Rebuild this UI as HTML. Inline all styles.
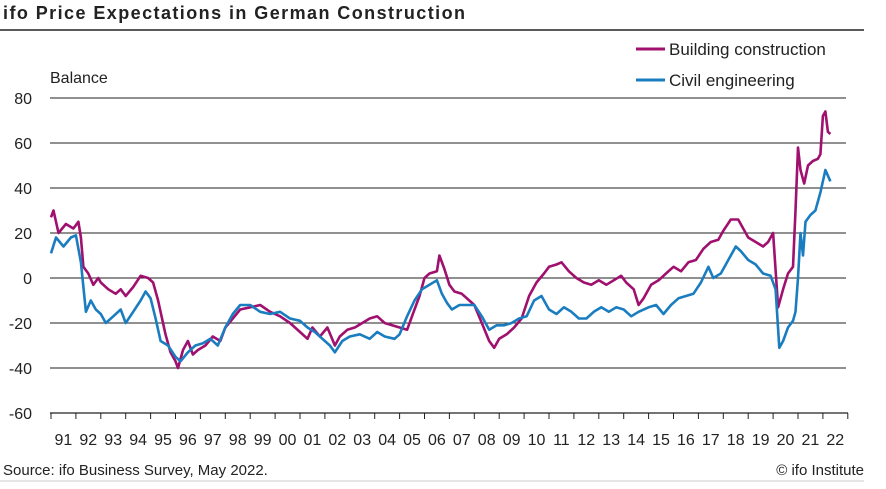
<!DOCTYPE html>
<html><head><meta charset="utf-8"><style>
body{margin:0;background:#fff;}
svg text{font-family:"Liberation Sans",sans-serif;fill:#222;}
</style></head><body>
<svg id="s" width="886" height="484" xmlns="http://www.w3.org/2000/svg">
<text x="3" y="19" font-size="18" font-weight="bold" textLength="462">ifo Price Expectations in German Construction</text>
<line x1="0" y1="30" x2="864" y2="30" stroke="#222" stroke-width="1.5"/>
<text x="50" y="83" font-size="16">Balance</text>
<line x1="636" y1="49" x2="665" y2="49" stroke="#a0106e" stroke-width="3"/>
<text x="669" y="55" font-size="17">Building construction</text>
<line x1="636" y1="80" x2="665" y2="80" stroke="#1a7dc0" stroke-width="3"/>
<text x="669" y="86" font-size="17">Civil engineering</text>
<g id="grid"></g>
<line x1="50" y1="413" x2="848" y2="413" stroke="#222" stroke-width="1.2"/>
<g id="ticks"></g>
<g id="series"></g>
<text x="3" y="475" font-size="15">Source: ifo Business Survey, May 2022.</text>
<text x="864" y="475" font-size="15" text-anchor="end">© ifo Institute</text>
<line x1="0" y1="481" x2="864" y2="481" stroke="#ccc" stroke-width="1"/>
</svg>
<script>
const NS="http://www.w3.org/2000/svg";
function el(t,a,p,txt){const e=document.createElementNS(NS,t);for(const k in a)e.setAttribute(k,a[k]);if(txt!=null)e.textContent=txt;document.getElementById(p).appendChild(e);}
const Y=v=>278-v*2.25, X=y=>51+(y-1991)*24.9;
for(let v=80;v>=-60;v-=20){ if(v>-60) el("line",{x1:50,y1:Y(v),x2:846,y2:Y(v),stroke:"#222","stroke-width":1},"grid");
 el("text",{x:32,y:Y(v)+6,"font-size":16,"text-anchor":"end"},"grid",String(v));}
for(let i=0;i<=32;i++){el("line",{x1:X(1991+i),y1:413,x2:X(1991+i),y2:419,stroke:"#222","stroke-width":1},"ticks");
 if(i<32) el("text",{x:X(1991+i)+12.4,y:445,"font-size":16,"text-anchor":"middle"},"ticks",String((91+i)%100).padStart(2,"0"));}
const B=[[91.0,27],[91.1,30],[91.3,20],[91.6,24],[91.9,22],[92.1,25],[92.2,18],[92.3,5],[92.5,2],[92.7,-3],[92.9,0],[93.0,-2],[93.3,-5],[93.6,-7],[93.8,-5],[94.0,-8],[94.3,-4],[94.6,1],[94.9,0],[95.1,-2],[95.3,-10],[95.6,-25],[95.8,-33],[96.0,-37],[96.1,-40],[96.3,-32],[96.5,-28],[96.7,-34],[96.9,-32],[97.2,-30],[97.5,-26],[97.8,-28],[98.0,-22],[98.3,-18],[98.6,-14],[99.0,-13],[99.4,-12],[99.8,-15],[100.2,-17],[100.6,-20],[101.0,-24],[101.3,-27],[101.5,-22],[101.8,-26],[102.1,-22],[102.4,-30],[102.6,-26],[102.9,-23],[103.2,-22],[103.5,-20],[103.8,-18],[104.1,-17],[104.4,-20],[104.7,-21],[105.0,-22],[105.3,-23],[105.5,-17],[105.8,-8],[106.0,0],[106.2,2],[106.5,3],[106.6,10],[106.8,4],[107.0,-3],[107.2,-6],[107.5,-7],[107.8,-10],[108.0,-12],[108.3,-20],[108.6,-28],[108.8,-31],[109.0,-27],[109.3,-25],[109.6,-22],[109.9,-18],[110.2,-8],[110.5,-2],[110.8,2],[111.0,5],[111.3,6],[111.5,7],[111.8,3],[112.1,0],[112.4,-2],[112.7,-3],[113.0,-1],[113.3,-3],[113.6,-1],[113.9,1],[114.1,-2],[114.4,-5],[114.6,-12],[114.8,-9],[115.1,-3],[115.4,-1],[115.7,2],[116.0,5],[116.3,3],[116.6,7],[116.9,8],[117.2,13],[117.5,16],[117.8,17],[118.0,21],[118.3,26],[118.6,26],[118.8,22],[119.0,18],[119.3,16],[119.6,14],[119.8,16],[120.0,20],[120.2,-13],[120.4,-5],[120.6,2],[120.8,5],[120.9,30],[121.0,58],[121.1,48],[121.25,42],[121.4,50],[121.6,52],[121.8,53],[121.9,55],[122.0,72],[122.1,74],[122.2,65],[122.3,64]];
const C=[[91.0,11],[91.2,18],[91.5,14],[91.8,18],[92.0,19],[92.2,7],[92.4,-15],[92.6,-10],[92.8,-14],[93.0,-16],[93.2,-20],[93.5,-17],[93.8,-14],[94.0,-20],[94.3,-15],[94.6,-10],[94.8,-6],[95.0,-9],[95.2,-18],[95.4,-28],[95.7,-30],[96.0,-35],[96.2,-37],[96.5,-33],[96.8,-30],[97.1,-29],[97.4,-27],[97.7,-30],[98.0,-22],[98.3,-16],[98.6,-12],[99.0,-12],[99.4,-15],[99.8,-16],[100.2,-15],[100.6,-18],[101.0,-19],[101.3,-22],[101.6,-24],[101.9,-27],[102.2,-30],[102.4,-33],[102.7,-28],[103.0,-26],[103.4,-25],[103.8,-27],[104.1,-24],[104.4,-26],[104.8,-27],[105.0,-25],[105.3,-17],[105.6,-10],[105.9,-5],[106.2,-3],[106.5,-1],[106.7,-7],[106.9,-11],[107.1,-14],[107.4,-12],[107.7,-12],[108.0,-12],[108.3,-17],[108.6,-23],[108.9,-21],[109.2,-21],[109.5,-20],[109.8,-18],[110.1,-17],[110.4,-10],[110.7,-8],[111.0,-14],[111.3,-16],[111.6,-13],[111.9,-15],[112.2,-18],[112.5,-18],[112.8,-15],[113.1,-13],[113.4,-15],[113.7,-13],[114.0,-14],[114.3,-17],[114.6,-15],[115.0,-13],[115.3,-12],[115.6,-16],[115.9,-12],[116.2,-9],[116.5,-8],[116.8,-7],[117.1,-2],[117.4,5],[117.6,0],[117.9,2],[118.2,8],[118.5,14],[118.7,12],[119.0,8],[119.3,6],[119.6,2],[119.9,1],[120.1,-5],[120.25,-31],[120.4,-28],[120.6,-22],[120.8,-19],[120.9,-15],[121.0,0],[121.1,20],[121.2,10],[121.3,25],[121.5,28],[121.7,30],[121.9,38],[122.1,48],[122.3,43]];
function pts(d){return d.map(([y,v])=>X(y+1900).toFixed(1)+","+Y(v).toFixed(1)).join(" ");}
el("polyline",{points:pts(B),fill:"none",stroke:"#a0106e","stroke-width":2.6,"stroke-linejoin":"round"},"series");
el("polyline",{points:pts(C),fill:"none",stroke:"#1a7dc0","stroke-width":2.6,"stroke-linejoin":"round"},"series");
</script>
</body></html>
